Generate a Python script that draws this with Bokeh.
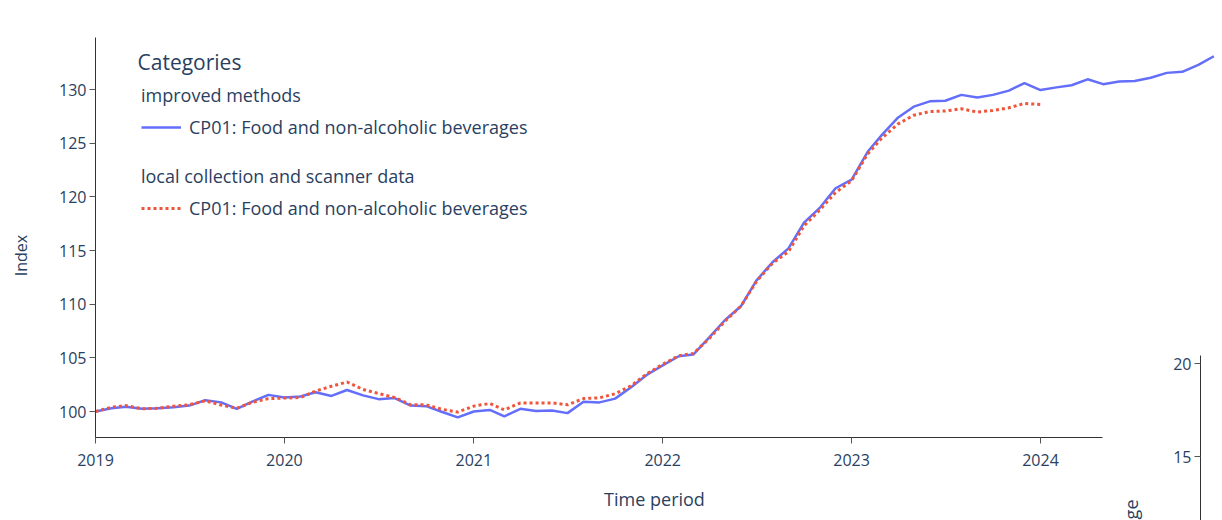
import math
import pandas as pd
from bokeh.plotting import figure
from bokeh.models import (Range1d, LinearAxis, FixedTicker, DatetimeTickFormatter,
                          Legend, LegendItem, Label)
from bokeh.embed import file_html
from bokeh.resources import INLINE

FONT = "Open Sans"
TXT = "#2a3f5f"
AXC = "#333333"
TICKC = "#555555"

# ---------------- data ----------------
series_start = "2019-01-01"
improved_label = "improved methods"
local_label = "local collection and scanner data"
item_label = "CP01: Food and non-alcoholic beverages"

improved_values = [
    100.0, 100.3, 100.45, 100.25, 100.3, 100.4, 100.55, 101.05, 100.85, 100.25, 100.95, 101.55,
    101.3, 101.4, 101.8, 101.45, 102.0, 101.5, 101.15, 101.25, 100.55, 100.5, 99.95, 99.45,
    100.0, 100.15, 99.55, 100.25, 100.05, 100.1, 99.85, 100.9, 100.85, 101.2, 102.25, 103.4,
    104.3, 105.15, 105.3, 106.9, 108.5, 109.8, 112.2, 113.9, 115.2, 117.6, 119.0, 120.8,
    121.6, 124.2, 125.8, 127.4, 128.4, 128.9, 128.95, 129.5, 129.25, 129.5, 129.9, 130.6,
    129.95, 130.2, 130.4, 130.95, 130.5, 130.75, 130.8, 131.1, 131.55, 131.65, 132.3, 133.1,
]
local_values = [
    100.0, 100.4, 100.55, 100.25, 100.3, 100.5, 100.62, 101.0, 100.6, 100.3, 100.87, 101.2,
    101.25, 101.3, 101.9, 102.35, 102.75, 102.05, 101.68, 101.3, 100.62, 100.62, 100.2, 99.95,
    100.5, 100.75, 100.15, 100.8, 100.8, 100.8, 100.62, 101.2, 101.28, 101.65, 102.4, 103.5,
    104.4, 105.2, 105.4, 106.8, 108.4, 109.8, 112.1, 113.8, 114.9, 117.3, 118.8, 120.4,
    121.5, 124.0, 125.5, 126.8, 127.6, 127.95, 128.0, 128.2, 127.9, 128.05, 128.3, 128.7,
    128.6,
]
improved_dates = pd.date_range(series_start, periods=len(improved_values), freq="MS")
local_dates = pd.date_range(series_start, periods=len(local_values), freq="MS")

year_ticks = ["2019", "2020", "2021", "2022", "2023", "2024"]
index_ticks = [100, 105, 110, 115, 120, 125, 130]
pct_ticks = [0, 5, 10, 15, 20]


def ms(s):
    return pd.Timestamp(s).value / 1e6


# ---------------- layout constants (pixels) ----------------
W, H = 1222, 520
X_ORIGIN = 95            # pixel x of 2019-01-01 (index axis)
Y_TOP_AXIS = 37          # top of the index axis line
X_AXIS_PX = 437          # pixel y of the time axis
X_AXIS_END_PX = 1102     # right end of the time axis line
PCT_AXIS_PX = 1200       # pixel x of the second panel's axis
PX_YEAR = 189.0
PX_INDEX = 10.733        # pixels per index point (100 at y=411)
PX_PCT = 18.6            # pixels per percentage point (20 at y=363)

x0 = ms(series_start)
year_ms = (ms("2024-01-01") - ms("2019-01-01")) / 5.0
def px_to_x(px):
    return x0 + (px - X_ORIGIN) / PX_YEAR * year_ms
def px_to_index(py):
    return 100 + (411 - py) / PX_INDEX
def px_to_pct(py):
    return 20 + (363 - py) / PX_PCT

# frame covers the whole canvas so nothing gets clipped
p = figure(width=W, height=H, x_axis_type="datetime",
           x_range=Range1d(px_to_x(0), px_to_x(W)),
           y_range=Range1d(px_to_index(H), px_to_index(0)),
           output_backend="svg", toolbar_location=None,
           min_border_left=0, min_border_right=0,
           min_border_top=0, min_border_bottom=0)
p.outline_line_color = None
p.grid.visible = False
p.background_fill_color = "white"
p.border_fill_color = "white"

r_imp = p.line(improved_dates, improved_values, line_color="#636efa", line_width=2.5)
r_loc = p.line(local_dates, local_values, line_color="#EF553B", line_width=3, line_dash="3 3")

def style_axis(ax, standoff):
    ax.axis_line_color = AXC
    ax.major_tick_line_color = TICKC
    ax.major_tick_out = 6
    ax.major_tick_in = 0
    ax.minor_tick_line_color = None
    ax.major_label_standoff = standoff
    ax.major_label_text_font = FONT
    ax.major_label_text_font_size = "16px"
    ax.major_label_text_color = TXT

# time axis
xa = p.xaxis[0]
xa.fixed_location = px_to_index(X_AXIS_PX)
xa.ticker = FixedTicker(ticks=[ms(f"{y}-01-01") for y in year_ticks])
xa.formatter = DatetimeTickFormatter(years="%Y", months="%Y", days="%Y")
xa.bounds = (x0, px_to_x(X_AXIS_END_PX))
style_axis(xa, 10)

# index axis
ya = p.yaxis[0]
ya.fixed_location = x0
ya.ticker = FixedTicker(ticks=index_ticks)
ya.bounds = (px_to_index(X_AXIS_PX), px_to_index(Y_TOP_AXIS))
style_axis(ya, 3)

# second subplot's axis (partially visible at the right)
p.extra_y_ranges = {"pct": Range1d(px_to_pct(H), px_to_pct(0))}
pax = LinearAxis(y_range_name="pct", ticker=FixedTicker(ticks=pct_ticks),
                 bounds=(px_to_pct(H), px_to_pct(355)),
                 fixed_location=px_to_x(PCT_AXIS_PX))
style_axis(pax, 3)
p.add_layout(pax, "left")

# axis titles and legend heading (screen px from the bottom-left corner)
def text_label(text, x, y, size, angle=0.0, align="center"):
    return Label(x=x, y=H - y, x_units="screen", y_units="screen", text=text, angle=angle,
                 text_font=FONT, text_font_size=size, text_color=TXT,
                 text_align=align, text_baseline="middle")

p.add_layout(text_label("Time period", 654, 498, "18px"))
p.add_layout(text_label("Index", 20, 255, "16px", angle=math.pi / 2))
p.add_layout(text_label("Percentage change", 1130, 499, "18px",
                        angle=math.pi / 2, align="right"))
p.add_layout(text_label("Categories", 137, 61, "21px", align="left"))

# legends
def make_legend(title, renderer, loc):
    return Legend(items=[LegendItem(label=item_label, renderers=[renderer])],
                  title=title, location=loc, orientation="vertical",
                  border_line_color=None, background_fill_alpha=0.0,
                  padding=0, margin=0, spacing=0,
                  glyph_width=40, glyph_height=20, label_height=20, label_standoff=8,
                  label_text_font=FONT, label_text_font_size="18px", label_text_color=TXT,
                  title_text_font=FONT, title_text_font_size="18px", title_text_color=TXT,
                  title_text_font_style="normal", title_standoff=8)

p.add_layout(make_legend(improved_label, r_imp, (141, H - 139)))
p.add_layout(make_legend(local_label, r_loc, (141, H - 220)))

open("out.html", "w").write(file_html(p, INLINE))
